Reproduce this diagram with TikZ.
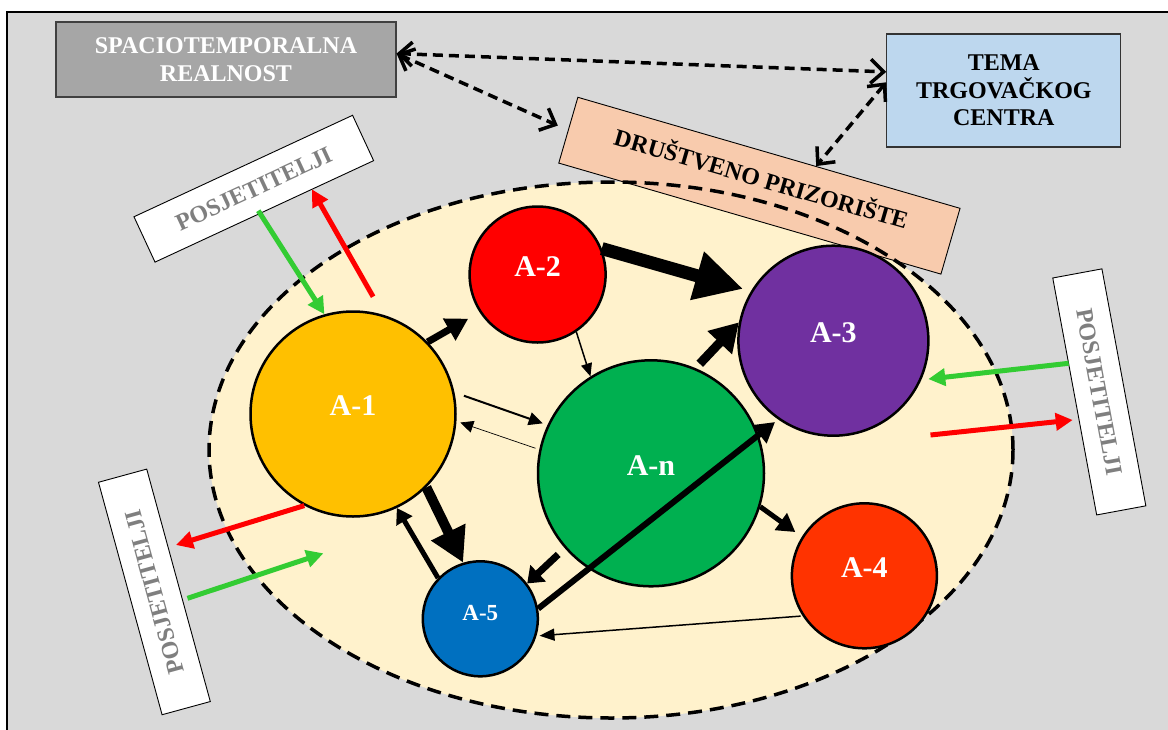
\documentclass[tikz,border=0pt]{standalone}
\usepackage{fontspec}
\setmainfont{Liberation Serif}
\usetikzlibrary{arrows.meta,calc}
\definecolor{bggray}{HTML}{D9D9D9}
\definecolor{spgray}{HTML}{A6A6A6}
\definecolor{temablue}{HTML}{BDD7EE}
\definecolor{peach}{HTML}{F8CBAD}
\definecolor{cream}{HTML}{FFF2CC}
\definecolor{cA1}{HTML}{FFC000}
\definecolor{cA2}{HTML}{FF0000}
\definecolor{cA3}{HTML}{7030A0}
\definecolor{cAn}{HTML}{00B050}
\definecolor{cA4}{HTML}{FF3300}
\definecolor{cA5}{HTML}{0070C0}
\definecolor{ingreen}{HTML}{33CC33}
\definecolor{outred}{HTML}{FF0000}
\definecolor{postext}{HTML}{7F7F7F}
\begin{document}
\begin{tikzpicture}[x=1pt,y=-1pt,
  boxtxt/.style={font=\fontsize{24}{27.5}\selectfont\bfseries, align=center},
  posbox/.style={draw=black, line width=0.9pt, fill=white, minimum width=241pt, minimum height=50pt, inner sep=0pt,
     font=\fontsize{24}{27}\selectfont\bfseries, text=postext},
  ball/.style={circle, draw=black, line width=2.5pt, inner sep=0pt},
  lbl/.style={font=\fontsize{30}{30}\selectfont\bfseries, text=white},
  dasharrow/.style={draw=black, line width=3.5pt, dash pattern=on 10pt off 6pt,
     {Straight Barb[length=13pt,width=24pt]}-{Straight Barb[length=13pt,width=24pt]}},
  inarrow/.style={draw=ingreen, line width=5pt, -{Triangle[length=17pt,width=17pt]}},
  outarrow/.style={draw=outred, line width=5pt, -{Triangle[length=17pt,width=17pt]}}
]
\useasboundingbox (0,0) rectangle (1168,729);
\fill[white] (0,0) rectangle (1168,729);
\filldraw[fill=bggray, draw=black, line width=2.5pt] (7,12) rectangle (1185,745);

% scene ellipse fill
\fill[cream] (611,450) ellipse [x radius=402pt, y radius=268pt];

% top boxes
\node[boxtxt, draw=black!75, line width=1.2pt, fill=spgray, text=white, minimum width=340pt, minimum height=75pt, inner sep=0pt] (sp) at (226,59.5) {SPACIOTEMPORALNA\\REALNOST};
\node[boxtxt, draw=black!80, line width=1.2pt, fill=temablue, minimum width=234pt, minimum height=113pt, inner sep=0pt] (tm) at (1003.8,90.5) {TEMA\\TRGOVAČKOG\\CENTRA};
\node[boxtxt, draw=black, line width=0.9pt, fill=peach, minimum width=398pt, minimum height=68.5pt, inner sep=0pt, rotate=-16.2] (dr) at (759.4,185.7)
  {\raisebox{0pt}[\height][\dimexpr\depth+18pt\relax]{DRUŠTVENO PRIZORIŠTE}};

% dashed outline of the scene
\draw[black, line width=3.5pt, dash pattern=on 14pt off 8pt] (611,450) ellipse [x radius=402pt, y radius=268pt];

% visitor boxes
\node[posbox, rotate=24.9] (p1) at (253.8,188.7) {POSJETITELJI};
\node[posbox, rotate=105.3] (p2) at (154.4,591.9) {POSJETITELJI};
\node[posbox, rotate=-79.5] (p3) at (1099.3,391.9) {POSJETITELJI};

% actors
\node[ball, fill=cA1, minimum size=205pt] (a1) at (353,414) {};
\node[ball, fill=cA2, minimum size=136pt] (a2) at (537.6,274.5) {};
\node[ball, fill=cA3, minimum size=190pt] (a3) at (833.4,340.7) {};
\node[ball, fill=cAn, minimum size=226pt] (an) at (651,473.3) {};
\node[ball, fill=cA4, minimum size=145pt] (a4) at (864.4,575.8) {};
\node[ball, fill=cA5, minimum size=115pt] (a5) at (480.3,618.8) {};
\node[lbl] (a1t) at ([yshift=8pt]a1.center) {A-1};
\node[lbl] (a2t) at ([yshift=8pt]a2.center) {A-2};
\node[lbl] (a3t) at ([yshift=8pt]a3.center) {A-3};
\node[lbl] (ant) at ([yshift=8pt]an.center) {A-n};
\node[lbl] (a4t) at ([yshift=8pt]a4.center) {A-4};
\node[lbl, font=\fontsize{23}{23}\selectfont\bfseries] (a5t) at ([yshift=6pt]a5.center) {A-5};

% dashed relations
\draw[dasharrow] (sp.2.5) -- (tm.171.5);
\draw[dasharrow, shorten >=11pt] (sp.2.5) -- (dr.west);
\draw[dasharrow] (tm.176) -- ($(dr.north)!0.246!(dr.north east)$);

% relations between actors
\draw[line width=7pt, -{Triangle[length=22pt,width=24pt]}, shorten >=13pt] (a1.44) -- (a2.-147.5);
\draw[line width=2pt, -{Triangle[length=14pt,width=13pt]}, shorten <=10pt, shorten >=5pt] (a1.12.3) -- (an.155.8);
\draw[line width=0.7pt, -{Triangle[length=13pt,width=12pt]}, shorten <=4pt, shorten >=4pt] (an.168.6) -- (a1.-4.1);
\draw[line width=10pt, -{Triangle[length=34pt,width=36pt]}] (a1.-45.4) -- (a5.107.3);
\draw[line width=5pt, -{Triangle[length=15pt,width=18pt]}] (a5.136) -- (a1.-65.6);
\draw[line width=13pt, -{Triangle[length=48pt,width=47pt]}, shorten >=8pt] (a2.22) -- (a3.149.5);
\draw[line width=1.5pt, -{Triangle[length=13pt,width=11pt]}] (a2.-56) -- (an.122.8);
\draw[line width=9pt, -{Triangle[length=28pt,width=32pt]}, shorten <=6pt] (an.67.7) -- (a3.169.4);
\draw[line width=5pt, -{Triangle[length=18pt,width=20pt]}, shorten >=8pt] (an.-17.3) -- (a4.148);
\draw[line width=7pt, -{Triangle[length=15pt,width=22pt]}, shorten <=9pt] (an.-139) -- (a5.37.7);
\draw[line width=6pt, -{Triangle[length=20pt,width=22pt]}, shorten >=4pt] (a5.10.7) -- (a3.-125.2);
\draw[line width=1.5pt, -{Triangle[length=15pt,width=12pt]}, shorten <=2pt, shorten >=3pt] (a4.-147) -- (a5.-17.3);

% visitor flows
\coordinate (g1s) at (258.3,210.7);
\coordinate (r1s) at (373.1,296.7);
\coordinate (r1e) at (311.9,189.3);
\coordinate (r2e) at (176,545);
\coordinate (g2s) at (187.5,598.3);
\coordinate (g2e) at (323.4,553.3);
\coordinate (g3s) at (1068.7,363.3);
\coordinate (r3s) at (930.5,435);
\coordinate (r3e) at (1072.7,420);
\draw[inarrow] (g1s) -- (a1.106.9);
\draw[outarrow] (r1s) -- (r1e);
\draw[outarrow] (a1.-118) -- (r2e);
\draw[inarrow] (g2s) -- (g2e);
\draw[inarrow, shorten >=7pt] (g3s) -- (a3.-24.6);
\draw[outarrow] (r3s) -- (r3e);
\end{tikzpicture}
\end{document}
